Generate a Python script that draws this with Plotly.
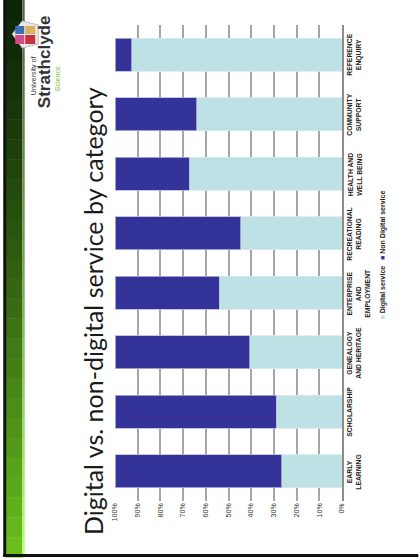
import plotly.graph_objects as go

categories = ["EARLY LEARNING", "SCHOLARSHIP", "GENEALOGY AND HERITAGE",
              "ENTERPRISE AND EMPLOYMENT", "RECREATIONAL READING",
              "HEALTH AND WELL BEING", "COMMUNITY SUPPORT", "REFERENCE ENQUIRY"]
cat_labels = ["EARLY<br>LEARNING", "SCHOLARSHIP", "GENEALOGY<br>AND HERITAGE",
              "ENTERPRISE<br>AND<br>EMPLOYMENT", "RECREATIONAL<br>READING",
              "HEALTH AND<br>WELL BEING", "COMMUNITY<br>SUPPORT", "REFERENCE<br>ENQUIRY"]
digital = [26.5, 28.9, 40.7, 54.1, 44.6, 67.4, 64.0, 92.7]
non_digital = [round(100 - v, 1) for v in digital]
tick_vals = [0, 10, 20, 30, 40, 50, 60, 70, 80, 90, 100]
tick_text = [f"{v}%" for v in tick_vals]

W, H = 419, 560
L, R, T, B = 115, 342.5, 25, 501


def px(x):
    return (x - L) / (R - L)


def py(y):
    return (B - y) / (B - T)


DARK = "#333399"
LIGHT = "#bde1e4"

fig = go.Figure()
fig.add_trace(go.Bar(y=categories, x=digital, orientation="h", name="Digital service",
                     marker=dict(color=LIGHT, line=dict(color="#dfe8f0", width=0.8))))
fig.add_trace(go.Bar(y=categories, x=non_digital, orientation="h", name="Non Digital service",
                     marker=dict(color=DARK, line=dict(color="#b8b8dc", width=0.8))))

shapes = []
# green gradient strip on the left
n = 28
top_c = (14, 38, 8)
bot_c = (106, 190, 32)
for i in range(n):
    t = i / (n - 1)
    t2 = t ** 1.3
    c = tuple(int(top_c[k] + (bot_c[k] - top_c[k]) * t2) for k in range(3))
    y0 = i * 557 / n
    y1 = (i + 1) * 557 / n + 0.5
    shapes.append(dict(type="rect", xref="paper", yref="paper", x0=px(5), x1=px(22),
                       y0=py(y1), y1=py(y0), fillcolor=f"rgb{c}", line=dict(width=0), layer="below"))
    lc = tuple(min(255, int(v * 1.0 + 70)) for v in c)
    shapes.append(dict(type="rect", xref="paper", yref="paper", x0=px(22), x1=px(24.5),
                       y0=py(y1), y1=py(y0), fillcolor=f"rgb{lc}", line=dict(width=0), layer="below"))
# black border
shapes.append(dict(type="rect", xref="paper", yref="paper", x0=px(3), x1=px(6), y0=py(557), y1=py(0),
                   fillcolor="#111", line=dict(width=0)))
shapes.append(dict(type="rect", xref="paper", yref="paper", x0=px(3), x1=px(419), y0=py(557), y1=py(554),
                   fillcolor="#111", line=dict(width=0)))
# logo icon (approximation)
shapes.append(dict(type="path", xref="paper", yref="paper",
                   path=f"M {px(12)} {py(34)} L {px(22)} {py(21)} L {px(38)} {py(25)} L {px(38)} {py(44)} L {px(22)} {py(48)} Z",
                   fillcolor="#e8e8e8", line=dict(color="#bbbbbb", width=1)))
for (x0, y0, x1, y1, col) in [(15, 26, 24, 34, "#3a6fb8"), (25, 26, 35, 34, "#d8b35a"),
                              (15, 35, 24, 44, "#d44a8a"), (25, 35, 35, 44, "#c8323c")]:
    shapes.append(dict(type="rect", xref="paper", yref="paper", x0=px(x0), x1=px(x1),
                       y0=py(y1), y1=py(y0), fillcolor=col, line=dict(width=0)))

annotations = []
# title
annotations.append(dict(text="Digital vs. non-digital service by category", xref="paper", yref="paper",
                        x=px(93), y=py(311), textangle=-90, showarrow=False,
                        font=dict(family="Lato, Open Sans, sans-serif", size=25, color="#1a1a1a"),
                        xanchor="center", yanchor="middle"))
# logo text
annotations.append(dict(text="<b>Strathclyde</b>", xref="paper", yref="paper", x=px(45), y=py(62),
                        textangle=-90, showarrow=False, xanchor="center", yanchor="middle",
                        font=dict(family="Liberation Sans Narrow, Liberation Sans, Arial", size=17, color="#333")))
annotations.append(dict(text="University of", xref="paper", yref="paper", x=px(34), y=py(76),
                        textangle=-90, showarrow=False, xanchor="center", yanchor="middle",
                        font=dict(family="Liberation Sans, Arial", size=7, color="#333")))
annotations.append(dict(text="Science", xref="paper", yref="paper", x=px(57), y=py(79),
                        textangle=-90, showarrow=False, xanchor="center", yanchor="middle",
                        font=dict(family="Liberation Sans, Arial", size=7, color="#6abf2a")))
# category labels
for cat, lab in zip(categories, cat_labels):
    annotations.append(dict(text=f"<b>{lab}</b>", xref="paper", yref="y", x=px(345), y=cat,
                            textangle=-90, showarrow=False, xanchor="left", yanchor="middle",
                            font=dict(family="Liberation Sans, Arial", size=6.8, color="#222")))
# legend
annotations.append(dict(text=f"<span style='color:{LIGHT}'>■</span> <b>Digital service</b>   "
                             f"<span style='color:{DARK}'>■</span> <b>Non Digital service</b>",
                        xref="paper", yref="paper", x=px(384), y=py(255), textangle=-90,
                        showarrow=False, xanchor="center", yanchor="middle",
                        font=dict(family="Liberation Sans, Arial", size=7, color="#222")))

fig.update_layout(
    width=W, height=H, margin=dict(l=L, r=W - R, t=T, b=H - B),
    paper_bgcolor="white", plot_bgcolor="white",
    barmode="stack", bargap=0.45, showlegend=False,
    shapes=shapes, annotations=annotations,
    xaxis=dict(range=[100, 0], tickvals=tick_vals, ticktext=tick_text, tickangle=-90,
               showgrid=True, gridcolor="#a6a6a6", gridwidth=1.5, zeroline=False,
               tickfont=dict(family="Liberation Sans, Arial", size=7, color="#333"),
               ticks="", showline=False),
    yaxis=dict(categoryorder="array", categoryarray=categories, side="right",
               showticklabels=False, showline=True, linecolor="#8c8c8c", linewidth=1.5,
               showgrid=False, ticks=""),
)

fig.write_html("out.html")
